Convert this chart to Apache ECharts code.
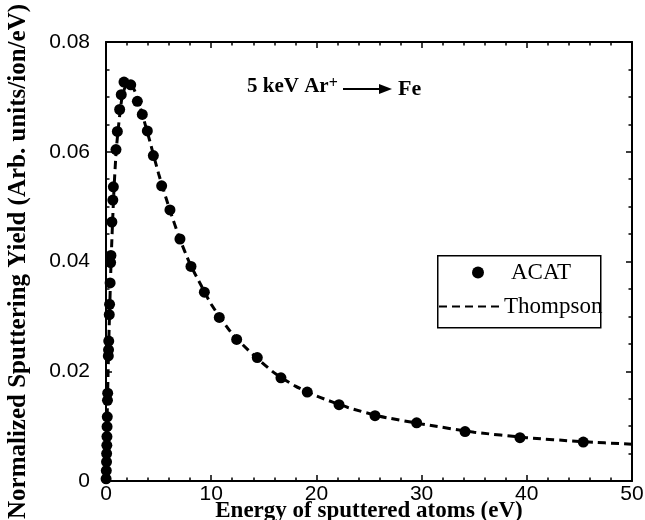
<!DOCTYPE html>
<html><head><meta charset="utf-8">
<script src="https://cdn.jsdelivr.net/npm/echarts@6/dist/echarts.min.js"></script>
<style>html,body{margin:0;padding:0;background:#fff}#c{width:645px;height:520px}</style>
</head><body><div id="c"></div>
<script>
// ACAT simulation points (energy in eV, normalized yield)
const acatEnergy = [0.01,0.03,0.05,0.06,0.08,0.09,0.10,0.12,0.14,0.16,0.22,0.24,0.26,0.31,0.34,0.39,0.44,0.47,0.56,0.65,0.70,0.95,1.08,1.30,1.45,1.71,2.35,2.98,3.45,3.93,4.50,5.29,6.08,7.03,8.08,9.35,10.77,12.42,14.38,16.63,19.13,22.15,25.57,29.53,34.13,39.35,45.37];
const acatYield  = [0.0004,0.0019,0.0035,0.0050,0.0065,0.0081,0.0099,0.0117,0.0147,0.0160,0.0228,0.0239,0.0255,0.0303,0.0322,0.0361,0.0398,0.0411,0.0472,0.0512,0.0536,0.0604,0.0637,0.0677,0.0704,0.0727,0.0722,0.0692,0.0668,0.0638,0.0593,0.0538,0.0494,0.0441,0.0391,0.0344,0.0298,0.0258,0.0225,0.0188,0.0162,0.0139,0.0119,0.0106,0.0090,0.0079,0.0071];
// Thompson curve
const thompsonEnergy = [0,0.1,0.2,0.3,0.5,0.75,1,1.5,2,2.5,3,4,5,6,7,8,9,10,12,14,16,18,20,23,26,30,35,40,45,50];
const thompsonYield  = [0,0.0107,0.0200,0.0280,0.0410,0.0528,0.0609,0.0696,0.0724,0.0720,0.0697,0.0631,0.0560,0.0498,0.0442,0.0395,0.0358,0.0322,0.0268,0.0230,0.0197,0.0173,0.0155,0.0134,0.0118,0.0104,0.0089,0.0079,0.0072,0.0067];
const xTickValues = [0,10,20,30,40,50];
const yTickValues = [0,0.02,0.04,0.06,0.08];
const seriesNames = ['ACAT','Thompson'];
const xTitle = 'Energy of sputtered atoms (eV)';
const yTitle = 'Normalized Sputtering Yield (Arb. units/ion/eV)';

const chart = echarts.init(document.getElementById('c'), null, {renderer:'canvas'});
const serif = 'Liberation Serif';
const sans = 'Liberation Sans';
const axisCommon = () => ({
  axisLine:{show:true,onZero:false,lineStyle:{color:'#000',width:2}},
  axisTick:{show:true,inside:true,length:6,lineStyle:{color:'#000',width:1.5}},
  splitLine:{show:false},
});
const xBase = {type:'value',min:xTickValues[0],max:xTickValues[xTickValues.length-1],interval:10,
  minorTick:{show:true,splitNumber:5,length:3.5,lineStyle:{color:'#000',width:1.5}}};
const yBase = {type:'value',min:yTickValues[0],max:yTickValues[yTickValues.length-1],interval:0.02,
  minorTick:{show:true,splitNumber:4,length:3.5,lineStyle:{color:'#000',width:1.5}}};

chart.setOption({
  animation:false,
  backgroundColor:'#fff',
  grid:{left:106,right:13,top:42,bottom:39,containLabel:false,outerBoundsMode:'none'},
  xAxis:[
    Object.assign({}, xBase, axisCommon(), {position:'bottom',
      axisLabel:{show:true,margin:3,color:'#000',fontFamily:sans,fontSize:21},
      name:xTitle,nameLocation:'middle',nameGap:19,nameMoveOverlap:false,
      nameTextStyle:{fontFamily:serif,fontWeight:'bold',fontSize:23,color:'#000'}}),
    Object.assign({}, xBase, axisCommon(), {position:'top',axisLabel:{show:false}})
  ],
  yAxis:[
    Object.assign({}, yBase, axisCommon(), {position:'left',
      axisLabel:{show:true,margin:16,color:'#000',fontFamily:sans,fontSize:21,
        formatter:v=> v===0 ? '0' : v.toFixed(2)},
      name:yTitle,nameLocation:'middle',nameGap:75,nameRotate:90,nameMoveOverlap:false,
      nameTextStyle:{fontFamily:serif,fontWeight:'bold',fontSize:25,color:'#000'}}),
    Object.assign({}, yBase, axisCommon(), {position:'right',axisLabel:{show:false}})
  ],
  legend:[
    {data:[seriesNames[0]],left:467,top:256,icon:'circle',itemWidth:12,itemHeight:12,
     textStyle:{fontFamily:serif,fontSize:23,color:'#000',padding:[0,0,0,22]},z:5},
    {data:[seriesNames[1]],left:433,top:290,itemWidth:62,itemHeight:14,
     itemStyle:{opacity:0,borderWidth:0},
     textStyle:{fontFamily:serif,fontSize:23,color:'#000',padding:[0,0,0,-2]},z:5}
  ],
  graphic:[
    {type:'rect',left:437,top:255,shape:{width:163,height:72},style:{fill:'#fff',stroke:'#000',lineWidth:1.5},z:3},
    {type:'text',left:247,top:76,style:{
      text:'{a|5 keV Ar}{s|+}',
      rich:{a:{fontFamily:serif,fontWeight:'bold',fontSize:21,fill:'#000',verticalAlign:'bottom'},
            s:{fontFamily:serif,fontWeight:'bold',fontSize:16,fill:'#000',verticalAlign:'top'}}}},
    {type:'line',shape:{x1:343,y1:89,x2:382,y2:89},style:{stroke:'#000',lineWidth:2}},
    {type:'polygon',shape:{points:[[379,84],[392,89],[379,94]]},style:{fill:'#000'}},
    {type:'text',left:398,top:78,style:{text:'Fe',fontFamily:serif,fontWeight:'bold',fontSize:22,fill:'#000'}}
  ],
  series:[
    {name:seriesNames[0],type:'scatter',xAxisIndex:0,yAxisIndex:0,symbol:'circle',symbolSize:11,
     itemStyle:{color:'#000',opacity:1},data:acatEnergy.map((e,i)=>[e,acatYield[i]]),z:3},
    {name:seriesNames[1],type:'line',xAxisIndex:0,yAxisIndex:0,symbol:'none',smooth:0.2,
     lineStyle:{color:'#000',width:3,type:[8,5]},itemStyle:{color:'#000'},
     data:thompsonEnergy.map((e,i)=>[e,thompsonYield[i]]),z:4}
  ]
});
</script></body></html>
